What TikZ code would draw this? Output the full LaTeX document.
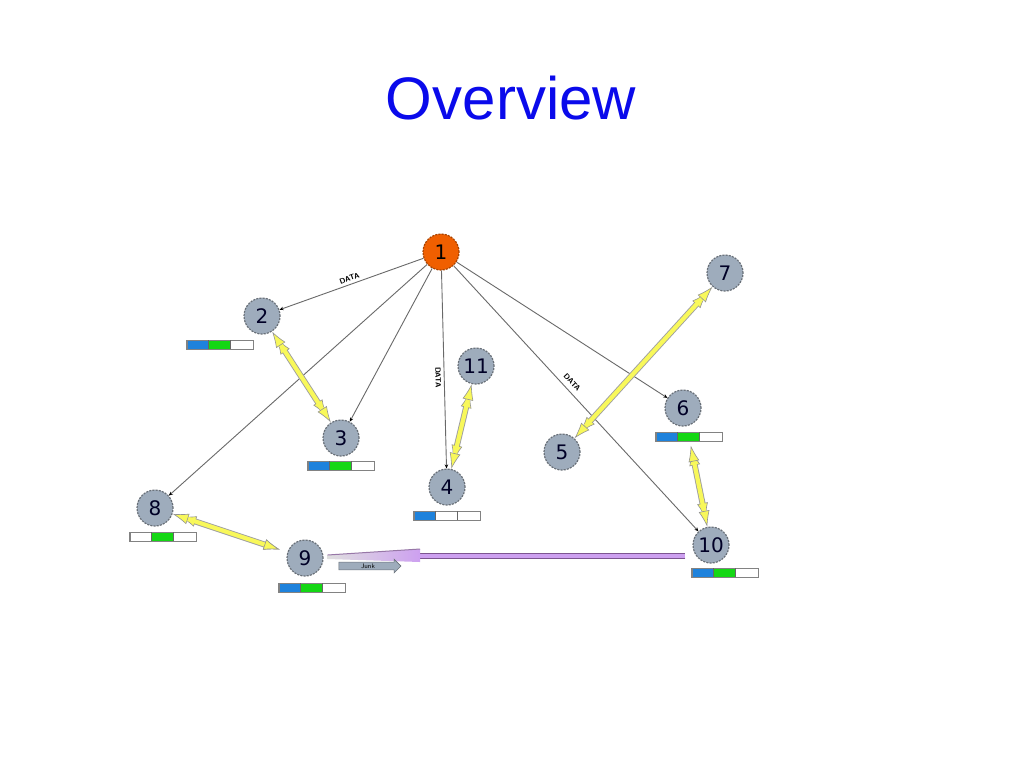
\documentclass[tikz,border=0pt]{standalone}
\usepackage{fontspec}
\usepackage{tikz}
\usetikzlibrary{arrows.meta,calc,shapes.arrows}
\newfontfamily\titlefont{Liberation Sans}
\newfontfamily\numfont{DejaVu Sans}
\definecolor{titleblue}{RGB}{10,10,235}
\definecolor{nodefill}{RGB}{158,172,188}
\definecolor{nodeborder}{RGB}{105,112,120}
\definecolor{srcorange}{RGB}{240,95,0}
\definecolor{ylw}{RGB}{248,248,90}
\definecolor{junklight}{RGB}{205,160,240}
\definecolor{junkdark}{RGB}{125,85,145}
\definecolor{barblue}{RGB}{30,130,220}
\definecolor{bargreen}{RGB}{20,215,20}
\definecolor{bargray}{RGB}{130,130,130}
\definecolor{linkgray}{RGB}{105,105,105}

\begin{document}
\begin{tikzpicture}[x=1pt,y=-1pt,
  mote/.style={circle,minimum size=36pt,inner sep=0pt,fill=nodefill,draw=nodeborder,
    line width=1.2pt,dash pattern=on 2pt off 1.2pt,font=\numfont\fontsize{20}{20}\selectfont,
    text=black!85!blue},
  source/.style={mote,fill=srcorange,draw=srcorange!70!black,text=black},
  loadbar/.style={rectangle,minimum width=66pt,minimum height=9pt,inner sep=0pt},
  datalink/.style={draw=linkgray,line width=0.9pt,-{Stealth[length=4pt,width=3.5pt,color=black]}},
  datalabel/.style={sloped,font=\sffamily\bfseries\fontsize{7.5}{8}\selectfont,inner sep=3pt},
  ylink/.style={draw=ylw,line width=4.2pt,{Latex[length=16pt,width=11pt,fill=ylw,color=gray!85,line width=0.6pt]}-{Latex[length=16pt,width=11pt,fill=ylw,color=gray!85,line width=0.6pt]},
    preaction={draw=gray!75,line width=6pt,shorten <=8pt,shorten >=8pt}},
  junklabel/.style={single arrow,fill=nodefill,draw=nodeborder,line width=0.6pt,
    minimum height=62pt,inner sep=1.2pt,single arrow head extend=3pt,
    font=\sffamily\fontsize{6.5}{7}\selectfont}]

  % Page
  \fill[white] (0,0) rectangle (1024,768);
  \useasboundingbox (0,0) rectangle (1024,768);

  % Title
  \node[font=\titlefont\fontsize{60}{60}\selectfont,text=titleblue] (title) at (511,98) {Overview};

  % Motes
  \node[source] (n1) at (441,252) {1};
  \node[mote] (n2) at (262,316) {2};
  \node[mote] (n3) at (341,438) {3};
  \node[mote] (n4) at (447,487) {4};
  \node[mote] (n5) at (562,452) {5};
  \node[mote] (n6) at (683,408) {6};
  \node[mote] (n7) at (725,273) {7};
  \node[mote] (n8) at (155,508) {8};
  \node[mote] (n9) at (305,558) {9};
  \node[mote] (n10) at (711,545) {10};
  \node[mote] (n11) at (476,366) {11};

  % Load bars under the motes
  \foreach \n/\dx/\dy/\ca/\cb/\cc in {2/-42/29/barblue/bargreen/white,
      3/0/28/barblue/bargreen/white, 4/0/29/barblue/white/white,
      6/6/29/barblue/bargreen/white, 8/8/29/white/bargreen/white,
      9/7/30/barblue/bargreen/white, 10/14/28/barblue/bargreen/white}{
    \node[loadbar] (bar\n) at ($(n\n)+(\dx,\dy)$) {};
    \fill[\ca] (bar\n.north west) rectangle ++(22,9);
    \fill[\cb] ($(bar\n.north west)+(22,0)$) rectangle ++(22,9);
    \fill[\cc] ($(bar\n.north west)+(44,0)$) rectangle ++(22,9);
    \draw[bargray,line width=1.4pt] (bar\n.north west) rectangle (bar\n.south east);
    \draw[black!60,line width=0.8pt] ($(bar\n.north west)+(22,0)$) -- ++(0,9)
      ($(bar\n.north west)+(44,0)$) -- ++(0,9);
  }

  % Data flows from the source
  \draw[datalink] (n1) -- node[datalabel,above] {DATA} (n2);
  \draw[datalink] (n1) -- (n3);
  \draw[datalink] (n1) -- node[datalabel,below,pos=0.54] {DATA} (n4);
  \draw[datalink] (n1) -- (n8);
  \draw[datalink] (n1) -- (n6);
  \draw[datalink] (n1) -- node[datalabel,above=2pt,pos=0.46] {DATA} (n10);

  % Neighbour links
  \draw[ylink] (n2) -- (n3);
  \draw[ylink] (n11) -- (n4);
  \draw[ylink] (n7) -- (n5);
  \draw[ylink,shorten <=4pt] (bar6) -- (n10);
  \draw[ylink,shorten >=8pt] (n8) -- (n9);

  % Junk stream from 10 to 9
  \coordinate (jt) at ($(n10.west)+(-7,11)$);
  \coordinate (jh) at (420,556);
  \coordinate (je) at ($(n9.east)+(4,-2)$);
  \draw[draw=junkdark,double=junklight,line width=1pt,double distance=4.5pt] (jt) -- (jh);
  \shade[left color=gray!25,right color=junklight] ($(jh)+(0,-7)$) -- ($(jh)+(0,6)$)
    -- ($(je)+(0,3)$) -- ($(je)+(0,-1)$) -- cycle;
  \draw[junkdark!80,line width=1pt] ($(jh)+(0,-7)$) -- ($(je)+(0,-1)$);
  \node[junklabel] (junk) at ($(n9)+(63,8)$) {Junk};
\end{tikzpicture}
\end{document}
